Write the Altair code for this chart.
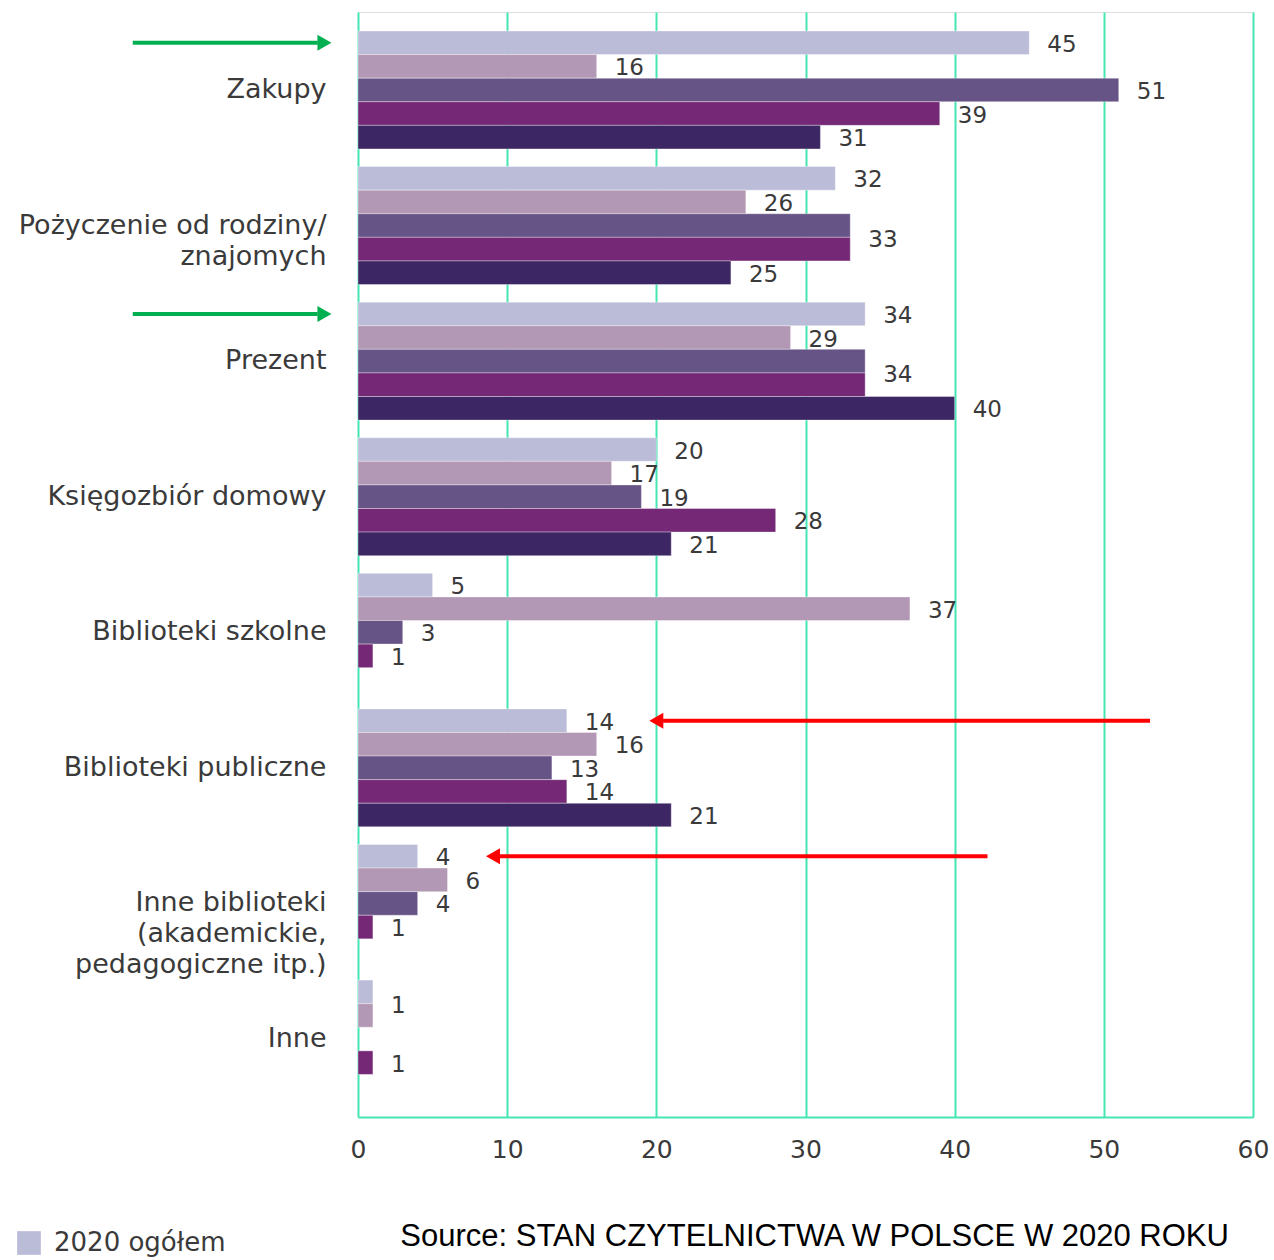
import altair as alt
import pandas as pd

# ---------------- data ----------------
categories = [
    "Zakupy",
    "Pożyczenie od rodziny/|znajomych",
    "Prezent",
    "Księgozbiór domowy",
    "Biblioteki szkolne",
    "Biblioteki publiczne",
    "Inne biblioteki|(akademickie,|pedagogiczne itp.)",
    "Inne",
]
series = ["2020 ogółem", "seria 2", "seria 3", "seria 4", "seria 5"]
colors = ["#BBBCD8", "#B398B5", "#675487", "#742875", "#3D2664"]

s1 = [45, 32, 34, 20, 5, 14, 4, 1]
s2 = [16, 26, 29, 17, 37, 16, 6, 1]
s3 = [51, 33, 34, 19, 3, 13, 4, None]
s4 = [39, 33, 34, 28, 1, 14, 1, 1]
s5 = [31, 25, 40, 21, None, 21, None, None]
all_series_values = [s1, s2, s3, s4, s5]

x_ticks = [0, 10, 20, 30, 40, 50, 60]

# annotation arrows (data units)
arrow_cats = ["Zakupy", "Prezent", "Biblioteki publiczne",
              "Inne biblioteki|(akademickie,|pedagogiczne itp.)"]
arrow_tail = [-15.1, -15.1, 53.1, 42.2]
arrow_tip = [-1.7, -1.7, 19.45, 8.5]
arrow_dir = ["triangle-right", "triangle-right", "triangle-left", "triangle-left"]
arrow_col = ["#00B050", "#00B050", "#FF0000", "#FF0000"]

source_text = "Source: STAN CZYTELNICTWA W POLSCE W 2020 ROKU"

# ---------------- tables ----------------
rows = []
for sname, vals in zip(series, all_series_values):
    for c, v in zip(categories, vals):
        if v is not None:
            rows.append({"cat": c, "series": sname, "value": v})
df = pd.DataFrame(rows)

# value labels: adjacent equal values share one label placed between the two bars
lab_rows = []
for ci, c in enumerate(categories):
    vals = [sv[ci] for sv in all_series_values]
    i = 0
    while i < len(vals):
        v = vals[i]
        if v is None:
            i += 1
            continue
        merged = i + 1 < len(vals) and vals[i + 1] == v
        lab_rows.append({"cat": c, "series": series[i], "value": v, "merged": merged})
        i += 2 if merged else 1
ldf = pd.DataFrame(lab_rows)

arr_rows = []
for c, t, p, d, col in zip(arrow_cats, arrow_tail, arrow_tip, arrow_dir, arrow_col):
    head_center = p + (0.55 if d == "triangle-left" else -0.55)
    line_end = p + (1.0 if d == "triangle-left" else -1.0)
    arr_rows.append({"cat": c, "series": series[0], "tail": t, "lineend": line_end,
                     "head": head_center, "shape": d, "col": col})
adf = pd.DataFrame(arr_rows)

FONT = "DejaVu Sans"
TXT = "#3a3a3a"
GRID = "#45E6B4"

y_enc = alt.Y("cat:N", sort=categories,
              scale=alt.Scale(domain=categories, paddingInner=0.13, paddingOuter=0.14),
              axis=alt.Axis(title=None, labelExpr="split(datum.value, '|')",
                            labelFontSize=27, labelLineHeight=31, labelFont=FONT,
                            labelColor=TXT, ticks=False, domain=False,
                            labelPadding=32, labelLimit=400))
yoff_enc = alt.YOffset("series:N", sort=series,
                       scale=alt.Scale(domain=series, paddingInner=0, paddingOuter=0))
x_scale = alt.Scale(domain=[0, 60], nice=False, zero=True)

bars = alt.Chart(df).mark_bar(stroke="white", strokeWidth=0.6, strokeOpacity=0.6).encode(
    y=y_enc,
    yOffset=yoff_enc,
    x=alt.X("value:Q", scale=x_scale,
            axis=alt.Axis(title=None, values=x_ticks, grid=True, gridColor=GRID,
                          gridWidth=2, domain=True, domainColor=GRID, domainWidth=2,
                          ticks=False, labelFontSize=25, labelFlush=False,
                          labelFont=FONT, labelColor=TXT, labelPadding=20)),
    color=alt.Color("series:N", sort=series,
                    scale=alt.Scale(domain=series, range=colors),
                    legend=alt.Legend(values=[series[0]], title=None, orient="none",
                                      legendX=-342, legendY=1218, labelFontSize=26,
                                      labelFont=FONT, labelColor=TXT, labelLimit=400,
                                      symbolType="square", symbolSize=560,
                                      symbolStrokeWidth=0, labelOffset=12)),
)

labels_single = alt.Chart(ldf).transform_filter("!datum.merged").mark_text(
    align="left", baseline="middle", dx=18, dy=2, fontSize=23, font=FONT, color=TXT
).encode(
    y=alt.Y("cat:N", sort=categories),
    yOffset=alt.YOffset("series:N", sort=series),
    x=alt.X("value:Q", scale=x_scale),
    text=alt.Text("value:Q"),
)

labels_merged = alt.Chart(ldf).transform_filter("datum.merged").mark_text(
    align="left", baseline="middle", dx=18, dy=14, fontSize=23, font=FONT, color=TXT
).encode(
    y=alt.Y("cat:N", sort=categories),
    yOffset=alt.YOffset("series:N", sort=series),
    x=alt.X("value:Q", scale=x_scale),
    text=alt.Text("value:Q"),
)

arrow_lines = alt.Chart(adf).mark_rule(strokeWidth=4).encode(
    y=alt.Y("cat:N", sort=categories),
    yOffset=alt.YOffset("series:N", sort=series),
    x=alt.X("tail:Q", scale=x_scale),
    x2="lineend:Q",
    color=alt.Color("col:N", scale=None),
)

arrow_heads = alt.Chart(adf).mark_point(filled=True, size=260, opacity=1).encode(
    y=alt.Y("cat:N", sort=categories),
    yOffset=alt.YOffset("series:N", sort=series),
    x=alt.X("head:Q", scale=x_scale),
    shape=alt.Shape("shape:N", scale=None),
    color=alt.Color("col:N", scale=None),
)

chart = alt.layer(bars, labels_single, labels_merged, arrow_lines, arrow_heads).properties(
    width=895, height=1105,
    autosize=alt.AutoSizeParams(type="none"),
    padding={"left": 358, "top": 12, "right": 21, "bottom": 143},
    title=alt.TitleParams(source_text, orient="bottom", anchor="end", font="Liberation Sans",
                          fontSize=31, fontWeight="normal", color="#000000", offset=0,
                          dx=-40, dy=-34),
).configure_view(stroke=GRID, strokeWidth=2).configure(background="white")

chart.save("out.html", embed_options={"renderer": "svg", "actions": False})
